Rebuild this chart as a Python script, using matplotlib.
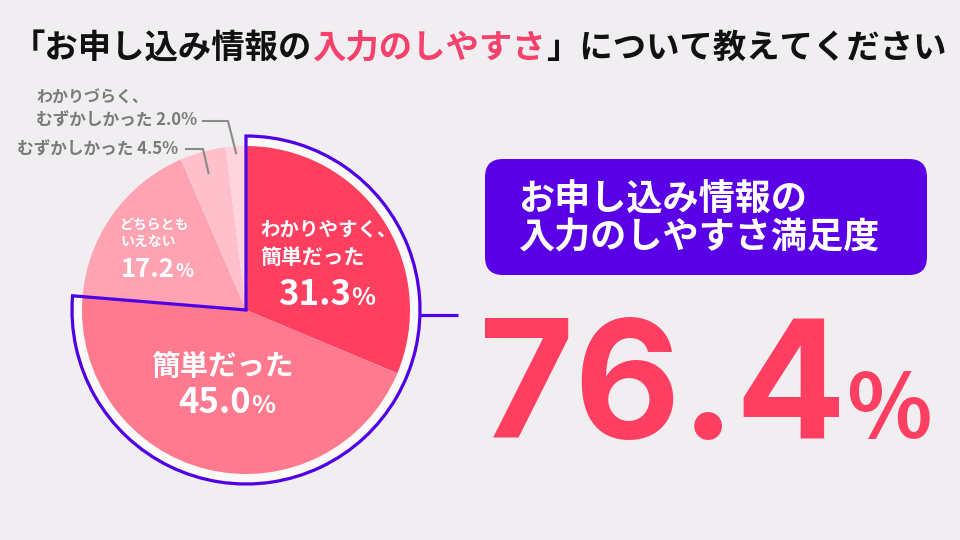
import matplotlib
matplotlib.use('Agg')
import matplotlib.pyplot as plt
from matplotlib.patches import Wedge, FancyBboxPatch
import numpy as np

plt.rcParams['font.family'] = ['Noto Sans CJK JP', 'DejaVu Sans']

# ---------------- data ----------------
title_parts = ['「お申し込み情報の', '入力のしやすさ', '」について教えてください']
categories = ['わかりやすく、簡単だった', '簡単だった', 'どちらともいえない',
              'むずかしかった', 'わかりづらく、むずかしかった']
values = [31.3, 45.0, 17.2, 4.5, 2.0]
box_lines = ['お申し込み情報の', '入力のしやすさ満足度']
satisfaction = 76.4

# ---------------- style ----------------
BG = '#F0EEF1'
colors = ['#FF3F60', '#FF7A8E', '#FFA3B3', '#FFBFCB', '#FFD4DD']
PURPLE = '#5000E6'
PINK = '#FF3F62'
TITLE_PINK = '#F6416C'
GRAY = '#7A7A7A'

fig = plt.figure(figsize=(9.6, 5.4), dpi=100, facecolor=BG)
renderer = fig.canvas.get_renderer()

CX, CY, R, RO = 246, 310, 164, 174
half = 240
pax = fig.add_axes([(CX - half) / 960, (540 - CY - half) / 540, 2 * half / 960, 2 * half / 540])
pax.set_facecolor('none')

cum = np.cumsum([0] + values)
start = 90
end_hl = start - 360 * (values[0] + values[1]) / 100.0

# white band under highlighted slices
pax.add_patch(Wedge((0, 0), RO - 2, end_hl, start, facecolor='#FCF9F9', edgecolor='none', zorder=0.5))
wedges, _ = pax.pie(values, colors=colors, startangle=start, counterclock=False, radius=R,
                    wedgeprops=dict(linewidth=0))
# purple outline around the "satisfied" part
pax.add_patch(Wedge((0, 0), RO, end_hl, start, fill=False, edgecolor=PURPLE, linewidth=2.3,
                    joinstyle='miter', zorder=3))
xs = np.sqrt(RO ** 2 - 5 ** 2)
pax.plot([xs, 212], [-5, -5], color=PURPLE, lw=2.3, solid_capstyle='butt', zorder=3, clip_on=False)
pax.set_xlim(-half, half)
pax.set_ylim(-half, half)
pax.set_aspect('equal')
pax.axis('off')

# overlay axes in pixel coords (y down)
ov = fig.add_axes([0, 0, 1, 1], zorder=5)
ov.set_xlim(0, 960)
ov.set_ylim(540, 0)
ov.axis('off')
ov.set_facecolor('none')


def seq_text(ax, x, y, parts, ha='left', va='baseline'):
    texts, widths = [], []
    for s, kw in parts:
        t = ax.text(0, y, s, ha='left', va=va, **kw)
        w = t.get_window_extent(renderer).width
        texts.append(t)
        widths.append(w)
    total = sum(widths)
    x0 = x - total / 2 if ha == 'center' else (x - total if ha == 'right' else x)
    for t, w in zip(texts, widths):
        t.set_x(x0)
        x0 += w
    return texts


# title
tcols = ['#111111', TITLE_PINK, '#111111']
seq_text(ov, 479, 48, [(s, dict(fontsize=24, fontweight='bold', color=c))
                        for s, c in zip(title_parts, tcols)], ha='center', va='center')

# labels inside pie
W = 'white'
ov.text(260, 230, 'わかりやすく、', fontsize=14, fontweight='bold', color=W, va='center')
ov.text(260, 257, '簡単だった', fontsize=15, fontweight='bold', color=W, va='center')
seq_text(ov, 327, 305, [(f'{values[0]:.1f}', dict(fontsize=25, fontweight='bold', color=W)),
                        ('%', dict(fontsize=18, fontweight='bold', color=W))], ha='center')

ov.text(222, 367, '簡単だった', fontsize=20.5, fontweight='bold', color=W, va='center', ha='center')
seq_text(ov, 227, 413, [(f'{values[1]:.1f}', dict(fontsize=25, fontweight='bold', color=W)),
                        ('%', dict(fontsize=18, fontweight='bold', color=W))], ha='center')

ov.text(120, 225, 'どちらとも', fontsize=10, fontweight='bold', color=W, va='center')
ov.text(120, 242, 'いえない', fontsize=10, fontweight='bold', color=W, va='center')
seq_text(ov, 121, 277, [(f'{values[2]:.1f}', dict(fontsize=18.5, fontweight='bold', color=W)),
                        ('%', dict(fontsize=13.5, fontweight='bold', color=W))], ha='left')

# outside labels (small slices)
ov.text(36, 98, 'わかりづらく、', fontsize=11.5, fontweight='bold', color=GRAY, va='center')
ov.text(36, 121, f'むずかしかった {values[4]:.1f}%', fontsize=12, fontweight='bold', color=GRAY, va='center')
ov.text(17, 150, f'むずかしかった {values[3]:.1f}%', fontsize=12, fontweight='bold', color=GRAY, va='center')


def mid_point(i, r):
    frac = (cum[i] + values[i] / 2) / 100.0
    ang = np.deg2rad(start - 360 * frac)
    return CX + r * np.cos(ang), CY - r * np.sin(ang)


px, py = mid_point(4, 157)
ov.plot([203, 228, px], [121, 121, py], color='#8A8A8A', lw=1.5)
px, py = mid_point(3, 142)
ov.plot([186, 203, px], [149, 149, py], color='#8A8A8A', lw=1.5)

# purple box
ov.add_patch(FancyBboxPatch((485, 159), 442, 116, boxstyle='round,pad=0,rounding_size=18',
                            facecolor='#5A00E6', edgecolor='none'))
ov.text(518, 200, box_lines[0], fontsize=26, fontweight='bold', color='white', va='center')
ov.text(518, 238, box_lines[1], fontsize=26, fontweight='bold', color='white', va='center')

# big number
BIG = ['Inter', 'Noto Sans CJK JP', 'DejaVu Sans']
seq_text(ov, 479, 438, [(f'{satisfaction:.1f}', dict(fontsize=118, fontweight='bold', color=PINK, family=BIG)),
                        ('%', dict(fontsize=64, fontweight='bold', color=PINK, family=['Noto Sans CJK JP']))],
         ha='left')

fig.savefig('out.png', dpi=100, facecolor=BG)
